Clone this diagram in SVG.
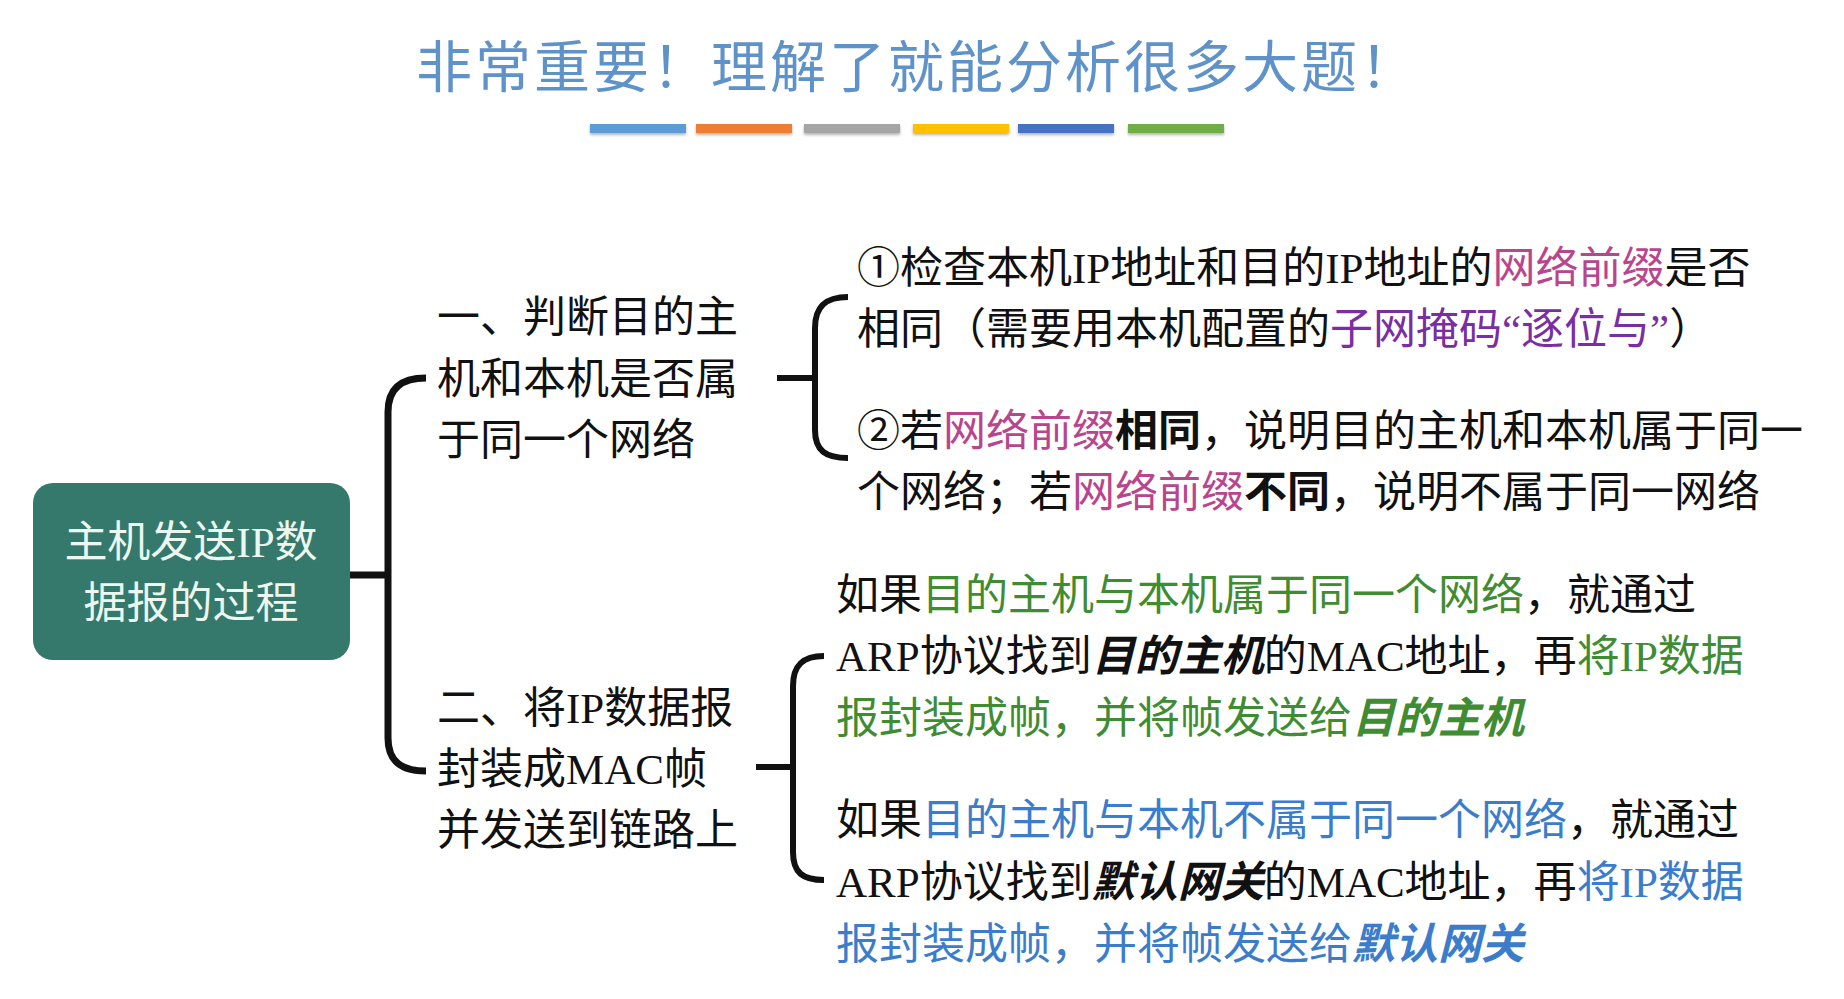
<svg xmlns="http://www.w3.org/2000/svg" width="1844" height="999" viewBox="0 0 1844 999">
  <defs>
    <style>
      text { font-family: "Liberation Serif", "Noto Sans CJK SC", serif; }
      .title { font-size: 56px; fill: #5f92c9; }
      .root { font-size: 43px; fill: #ecf7f0; text-anchor: middle; }
      .t { font-size: 43px; fill: #111111; }
      .pk { fill: #b9458c; }
      .pu { fill: #7a2ea3; }
      .gr { fill: #3f8c33; }
      .bl { fill: #3b7dcb; }
      .b { font-weight: bold; }
      .bi { font-weight: bold; font-style: italic; }
      .conn { fill: none; stroke: #111111; stroke-linecap: butt; }
      .bar { filter: url(#sh); }
    </style>
    <filter id="sh" x="-10%" y="-50%" width="120%" height="250%">
      <feDropShadow dx="0" dy="2" stdDeviation="1.5" flood-color="#000" flood-opacity="0.3"/>
    </filter>
  </defs>
  <rect width="1844" height="999" fill="#ffffff"/>

  <g id="title">
    <text class="title" x="416" y="87" textLength="1000" lengthAdjust="spacing">非常重要！理解了就能分析很多大题！</text>
    <rect class="bar" x="590" y="124" width="96" height="9" fill="#5b9bd5"/>
    <rect class="bar" x="696" y="124" width="96" height="9" fill="#ed7d31"/>
    <rect class="bar" x="804" y="124" width="96" height="9" fill="#a5a5a5"/>
    <rect class="bar" x="913" y="124" width="96" height="9" fill="#ffc000"/>
    <rect class="bar" x="1018" y="124" width="96" height="9" fill="#4472c4"/>
    <rect class="bar" x="1128" y="124" width="96" height="9" fill="#70ad47"/>
  </g>

  <g id="connectors">
    <path class="conn" stroke-width="7" d="M350 575 L388 575"/>
    <path class="conn" stroke-width="7" d="M426 378 C402 378 388 388 388 412 L388 738 C388 762 402 771 426 771"/>
    <path class="conn" stroke-width="6" d="M777 378 L815 378"/>
    <path class="conn" stroke-width="6" d="M848 297 C826 297 815 306 815 328 L815 430 C815 451 826 458 848 458"/>
    <path class="conn" stroke-width="6" d="M756 767 L793 767"/>
    <path class="conn" stroke-width="6" d="M824 656 C803 656 793 665 793 686 L793 852 C793 873 803 880 824 880"/>
  </g>

  <g id="root">
    <rect x="33" y="483" width="317" height="177" rx="20" ry="20" fill="#35796c"/>
    <text class="root" x="191" y="557">主机发送IP数</text>
    <text class="root" x="191" y="618">据报的过程</text>
  </g>

  <g id="branch1">
    <text class="t" x="437" y="332">一、判断目的主</text>
    <text class="t" x="437" y="394">机和本机是否属</text>
    <text class="t" x="437" y="455">于同一个网络</text>
  </g>

  <g id="branch1-detail">
    <text class="t" x="857" y="283">①检查本机IP地址和目的IP地址的<tspan class="pk">网络前缀</tspan>是否</text>
    <text class="t" x="857" y="344">相同（需要用本机配置的<tspan class="pu">子网掩码“逐位与”</tspan>）</text>
    <text class="t" x="857" y="446">②若<tspan class="pk">网络前缀</tspan><tspan class="b">相同</tspan>，说明目的主机和本机属于同一</text>
    <text class="t" x="857" y="507">个网络；若<tspan class="pk">网络前缀</tspan><tspan class="b">不同</tspan>，说明不属于同一网络</text>
  </g>

  <g id="branch2">
    <text class="t" x="437" y="723">二、将IP数据报</text>
    <text class="t" x="437" y="784">封装成MAC帧</text>
    <text class="t" x="437" y="845">并发送到链路上</text>
  </g>

  <g id="branch2-detail">
    <text class="t" x="836" y="610">如果<tspan class="gr">目的主机与本机属于同一个网络</tspan>，就通过</text>
    <text class="t" x="836" y="671">ARP协议找到<tspan class="bi">目的主机</tspan>的MAC地址，再<tspan class="gr">将IP数据</tspan></text>
    <text class="t" x="836" y="733"><tspan class="gr">报封装成帧，并将帧发送给</tspan><tspan class="gr bi">目的主机</tspan></text>
    <text class="t" x="836" y="835">如果<tspan class="bl">目的主机与本机不属于同一个网络</tspan>，就通过</text>
    <text class="t" x="836" y="897">ARP协议找到<tspan class="bi">默认网关</tspan>的MAC地址，再<tspan class="bl">将IP数据</tspan></text>
    <text class="t" x="836" y="959"><tspan class="bl">报封装成帧，并将帧发送给</tspan><tspan class="bl bi">默认网关</tspan></text>
  </g>
</svg>
